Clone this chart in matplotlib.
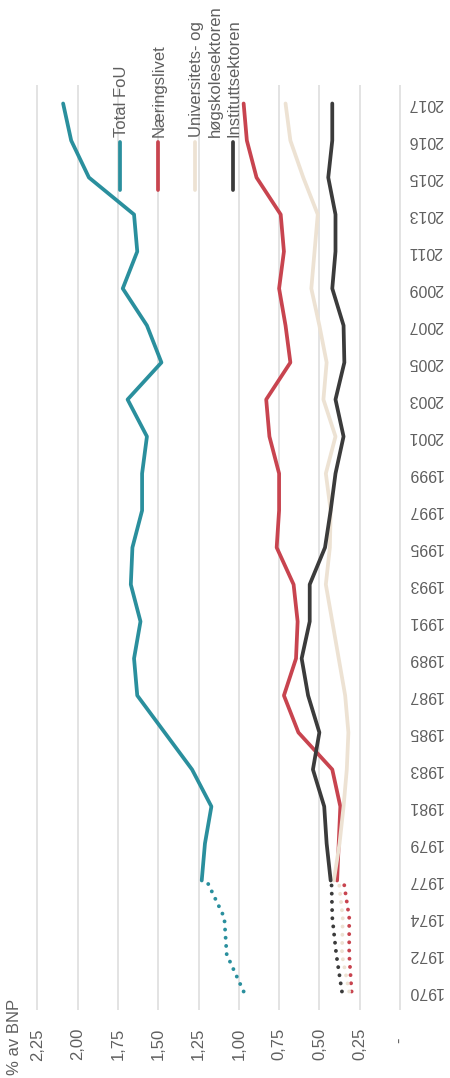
import matplotlib
matplotlib.use('Agg')
import matplotlib.pyplot as plt
from matplotlib.lines import Line2D

plt.rcParams['font.family'] = ['Liberation Sans', 'DejaVu Sans']
plt.rcParams['font.size'] = 12

years = ['1970', '1972', '1974', '1977', '1979', '1981', '1983', '1985', '1987',
         '1989', '1991', '1993', '1995', '1997', '1999', '2001', '2003', '2005',
         '2007', '2009', '2011', '2013', '2015', '2016', '2017']

value_ticks = [2.25, 2.0, 1.75, 1.5, 1.25, 1.0, 0.75, 0.5, 0.25, 0]
value_labels = ['2,25', '2,00', '1,75', '1,50', '1,25', '1,00', '0,75', '0,50', '0,25', '-  ']

# 1977-2017 (solid)
total = [1.23, 1.21, 1.17, 1.29, 1.46, 1.63, 1.65, 1.61, 1.67, 1.66, 1.60,
         1.60, 1.57, 1.69, 1.48, 1.57, 1.72, 1.63, 1.65, 1.93, 2.04, 2.09]
naering = [0.39, 0.38, 0.37, 0.42, 0.63, 0.72, 0.645, 0.635, 0.66, 0.765, 0.75,
           0.75, 0.81, 0.83, 0.68, 0.71, 0.75, 0.72, 0.74, 0.89, 0.95, 0.97]
uh = [0.41, 0.375, 0.35, 0.33, 0.32, 0.34, 0.38, 0.42, 0.46, 0.435, 0.43,
      0.46, 0.40, 0.475, 0.455, 0.50, 0.55, 0.53, 0.51, 0.60, 0.68, 0.71]
inst = [0.43, 0.455, 0.47, 0.54, 0.50, 0.57, 0.61, 0.56, 0.56, 0.465, 0.43,
        0.40, 0.35, 0.40, 0.345, 0.35, 0.42, 0.40, 0.40, 0.445, 0.42, 0.42]

# 1970-1977 (dotted)
total_old = [0.97, 1.075, 1.09, 1.20]
naering_old = [0.30, 0.315, 0.315, 0.35]
uh_old = [0.315, 0.36, 0.355, 0.38]
inst_old = [0.36, 0.395, 0.42, 0.425]

names = ['Total FoU', 'Næringslivet', 'Universitets- og\nhøgskolesektoren', 'Instituttsektoren']
colors = ['#2a8f9d', '#c8444f', '#ede2d3', '#3b3b3b']
text_color = '#5f5f5f'

W, H = 450, 1078
fig = plt.figure(figsize=(W / 100, H / 100), dpi=100)
# plot area in pixels: x 32.5..404.8, y 85..1010
ax = fig.add_axes([32.5 / W, 1 - 1010 / H, (404.8 - 32.5) / W, (1010 - 85) / H])

pos = list(range(len(years)))
new_pos = pos[3:]
old_pos = pos[:4]

for vals, old, c in zip([total, naering, uh, inst],
                        [total_old, naering_old, uh_old, inst_old], colors):
    ax.plot(vals, new_pos, color=c, lw=2.7, solid_capstyle='round',
            solid_joinstyle='round', zorder=3)
    ax.plot(old, old_pos, color=c, lw=2.8, linestyle=(0, (0.01, 2.1)),
            dash_capstyle='round', zorder=3)

ax.set_xlim(2.28, -0.03)
ax.set_ylim(-0.5, len(years) - 0.5)

ax.set_xticks(value_ticks)
ax.set_xticklabels(value_labels, rotation=90, va='top', ha='center', color=text_color)
ax.tick_params(axis='x', length=0, pad=13)

ax.yaxis.tick_right()
ax.set_yticks(pos)
ax.set_yticklabels(years, rotation=180, va='center', ha='left', color=text_color,
                   fontsize=11.5)
ax.tick_params(axis='y', length=0, pad=2)

ax.grid(axis='x', color='#dedede', lw=1.2, zorder=0)
ax.set_axisbelow(True)
for s in ax.spines.values():
    s.set_visible(False)

# legend, drawn rotated
leg_x = [120, 158, 195, 233]
for x, name, c in zip(leg_x, names, colors):
    fig.add_artist(Line2D([x / W, x / W], [1 - 142 / H, 1 - 190 / H], color=c,
                          lw=2.7, solid_capstyle='round', transform=fig.transFigure))
    for j, line in enumerate(name.split('\n')):
        fig.text((x + 6 + 19 * j) / W, 1 - 137 / H, line, rotation=90,
                 rotation_mode='anchor', ha='left', va='baseline', color=text_color)

fig.text(15 / W, 1 - 1075 / H, '% av BNP', rotation=90, ha='center', va='bottom',
         color=text_color)

fig.savefig('out.png', dpi=100)
